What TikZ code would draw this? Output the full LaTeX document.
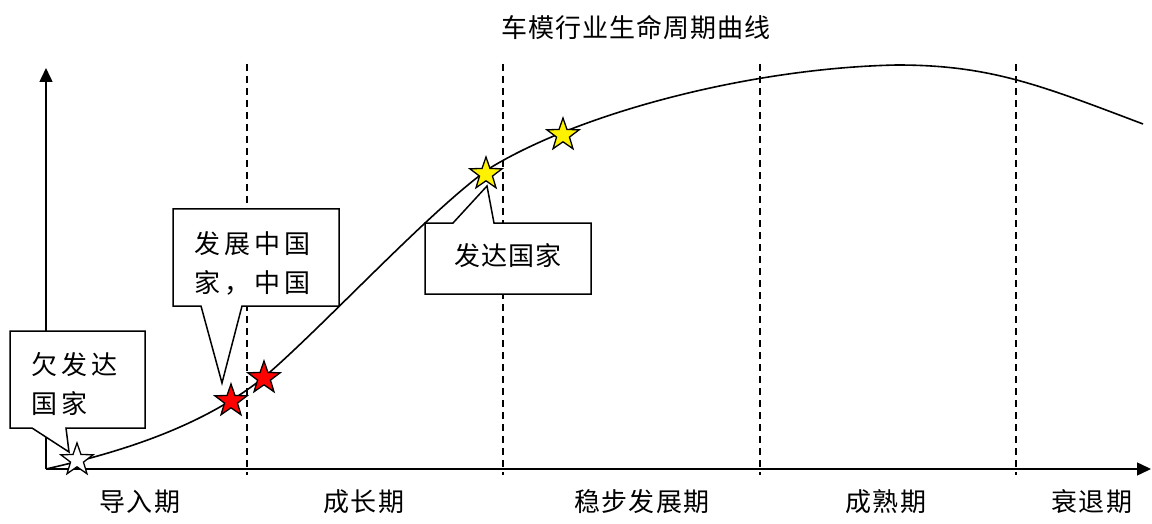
\documentclass[tikz,border=0pt]{standalone}
\usepackage{fontspec}
\newfontfamily\cjk[LetterSpace=4]{Noto Sans CJK SC}
\newfontfamily\cjkwide[LetterSpace=16]{Noto Sans CJK SC}
\usetikzlibrary{shapes.geometric, arrows.meta, positioning}

\begin{document}
\begin{tikzpicture}[x=1pt, y=-1pt, line join=miter,
    axis/.style={line width=1.5pt, -{Triangle[length=14pt, width=13pt]}},
    phase/.style={line width=1.5pt, dash pattern=on 7pt off 5pt},
    lifecurve/.style={line width=1.6pt},
    callout/.style={draw, line width=1.5pt, fill=white},
    starmark/.style={star, star points=5, star point ratio=2.5, draw, line width=1.3pt, minimum size=34pt, inner sep=0pt},
    stage/.style={font=\fontsize{26}{30}\cjk, inner sep=0pt},
    note/.style={font=\fontsize{26}{39}\selectfont\cjkwide, inner sep=0pt, align=left}]
    \useasboundingbox (0,0) rectangle (1152,524);

    \node[stage] (title) at (636,28) {车模行业生命周期曲线};

    % phases
    \foreach \x in {247,503,760,1016}
        \draw[phase] (\x,64) -- (\x,475);

    \coordinate (O) at (46,469);
    \coordinate (ytop) at (46,68);
    \coordinate (xend) at (1151,469);
    \draw[axis] (O) -- (ytop);
    \draw[axis] (O) -- (xend);

    \node[stage] (p1) at (140,502) {导入期};
    \node[stage] (p2) at (364,502) {成长期};
    \node[stage] (p3) at (642,502) {稳步发展期};
    \node[stage] (p4) at (886,502) {成熟期};
    \node[stage] (p5) at (1092,502) {衰退期};

    \draw[lifecurve] (O) .. controls (130,450) and (205,424) .. (263,378)
        .. controls (320,330) and (430,210) .. (490,168)
        .. controls (580,113) and (750,68) .. (897,65)
        .. controls (990,65) and (1040,85) .. (1143,124);

    % callouts
    \draw[callout] (10,331) -- (145,331) -- (145,428) -- (66,428) -- (69,452) -- (32,428) -- (10,428) -- cycle;
    \draw[callout] (173,209) -- (339,209) -- (339,306) -- (242,306) -- (222,383) -- (201,306) -- (173,306) -- cycle;
    \draw[callout] (425,223) -- (453,223) -- (487,186) -- (494,223) -- (591,223) -- (591,294) -- (425,294) -- cycle;

    \node[note, anchor=north west] (n1) at (31,352) {欠发达\\国家};
    \node[note, anchor=north west] (n2) at (194,231) {发展中国\\家，中国};
    \node[stage] (n3) at (508,256) {发达国家};

    \node[starmark, fill=white] (s0) at (77,460) {};
    \node[starmark, fill=red] (s1) at (231,401) {};
    \node[starmark, fill=red] (s2) at (264,378) {};
    \node[starmark, fill=yellow] (s3) at (486,174) {};
    \node[starmark, fill=yellow] (s4) at (563,135) {};
\end{tikzpicture}
\end{document}
